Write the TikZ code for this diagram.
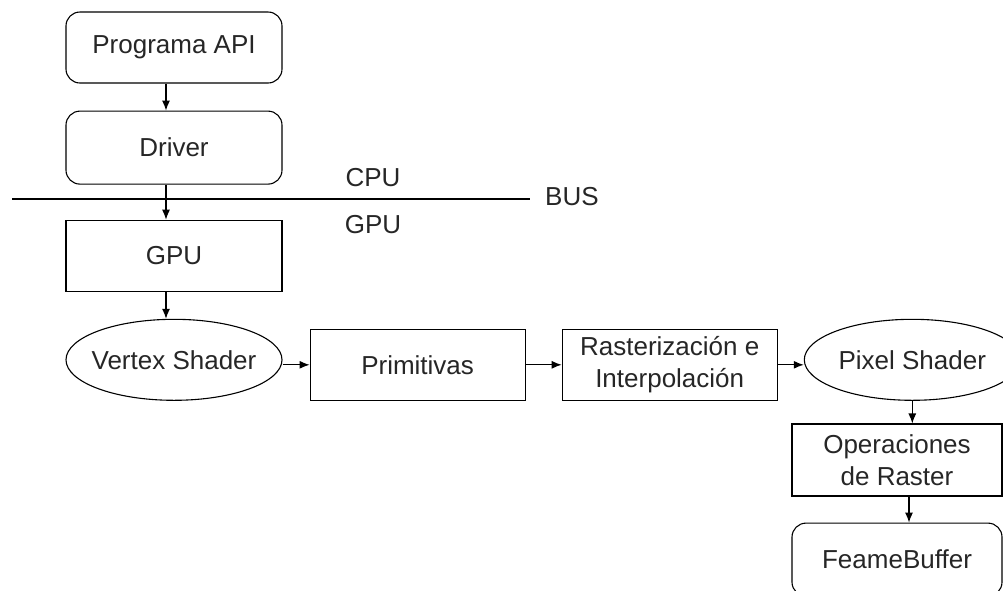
\documentclass[tikz,border=0pt]{standalone}
\usepackage{fontspec}
\setmainfont{Liberation Sans}
\usetikzlibrary{positioning, arrows.meta, shapes.geometric}

\begin{document}
\begin{tikzpicture}[x=1pt, y=-1pt,
      stagebox/.style={draw, line width=1.1pt, minimum width=#1, minimum height=71pt, inner sep=0pt, align=center, text=black!85, font=\fontsize{26}{32}\selectfont},
      stagebox/.default=216pt,
      softbox/.style={stagebox=#1, rounded corners=14pt, minimum height=73pt},
      softbox/.default=216pt,
      shaderoval/.style={draw, ellipse, line width=1.1pt, minimum width=216pt, minimum height=81pt, inner xsep=-8pt, inner ysep=0pt, text=black!85, font=\fontsize{26}{32}\selectfont},
      flowarrow/.style={-{Latex[length=10pt,width=8pt]}, line width=1.1pt},
      buslabel/.style={inner sep=0pt, text=black!85, font=\fontsize{26}{32}\selectfont}
    ]
      \clip (0,0) rectangle (1003,590);

      \node[softbox, minimum height=71pt] (prog) at (174,47.5) {Programa API};
      \node[softbox, below=27pt of prog] (driver) {Driver};
      \node[stagebox, below=35pt of driver] (gpubox) {GPU};
      \node[shaderoval, below=27pt of gpubox] (vs) {Vertex Shader};
      \node[stagebox=215pt, right=27pt of vs, yshift=-5pt] (prim) {Primitivas};
      \node[stagebox=215pt, right=36pt of prim] (rast) {Rasterización e\\Interpolación};
      \node[shaderoval, right=26pt of rast, yshift=5pt] (ps) {Pixel Shader};
      \node[stagebox=210pt, minimum height=72pt] (oper) at (897,460) {Operaciones\\de Raster};
      \node[softbox=210pt, below=26pt of oper] (fb) {FeameBuffer};

      % bus between CPU and GPU
      \coordinate (busstart) at (12,199);
      \coordinate (busend) at (530,199);
      \draw[line width=1.1pt] (busstart) -- (busend);
      \node[buslabel] (cpu) at (373,178) {CPU};
      \node[buslabel] (gpu) at (373,225) {GPU};
      \node[buslabel, anchor=west] (bus) at (545,197) {BUS};

      \draw[flowarrow] ([xshift=-8pt]prog.south) -- ([xshift=-8pt]driver.north);
      \draw[flowarrow] ([xshift=-8pt]driver.south) -- ([xshift=-8pt]gpubox.north);
      \draw[flowarrow] ([xshift=-8pt]gpubox.south) -- ([xshift=-8pt]vs.north);
      \draw[flowarrow] (vs.east |- prim.west) -- (prim.west);
      \draw[flowarrow] (prim) -- (rast);
      \draw[flowarrow] (rast.east) -- (rast.east -| ps.west);
      \draw[flowarrow] (ps.south) -- (ps.south |- oper.north);
      \draw[flowarrow] ([xshift=12pt]oper.south) -- ([xshift=12pt]fb.north);
    \end{tikzpicture}
\end{document}
